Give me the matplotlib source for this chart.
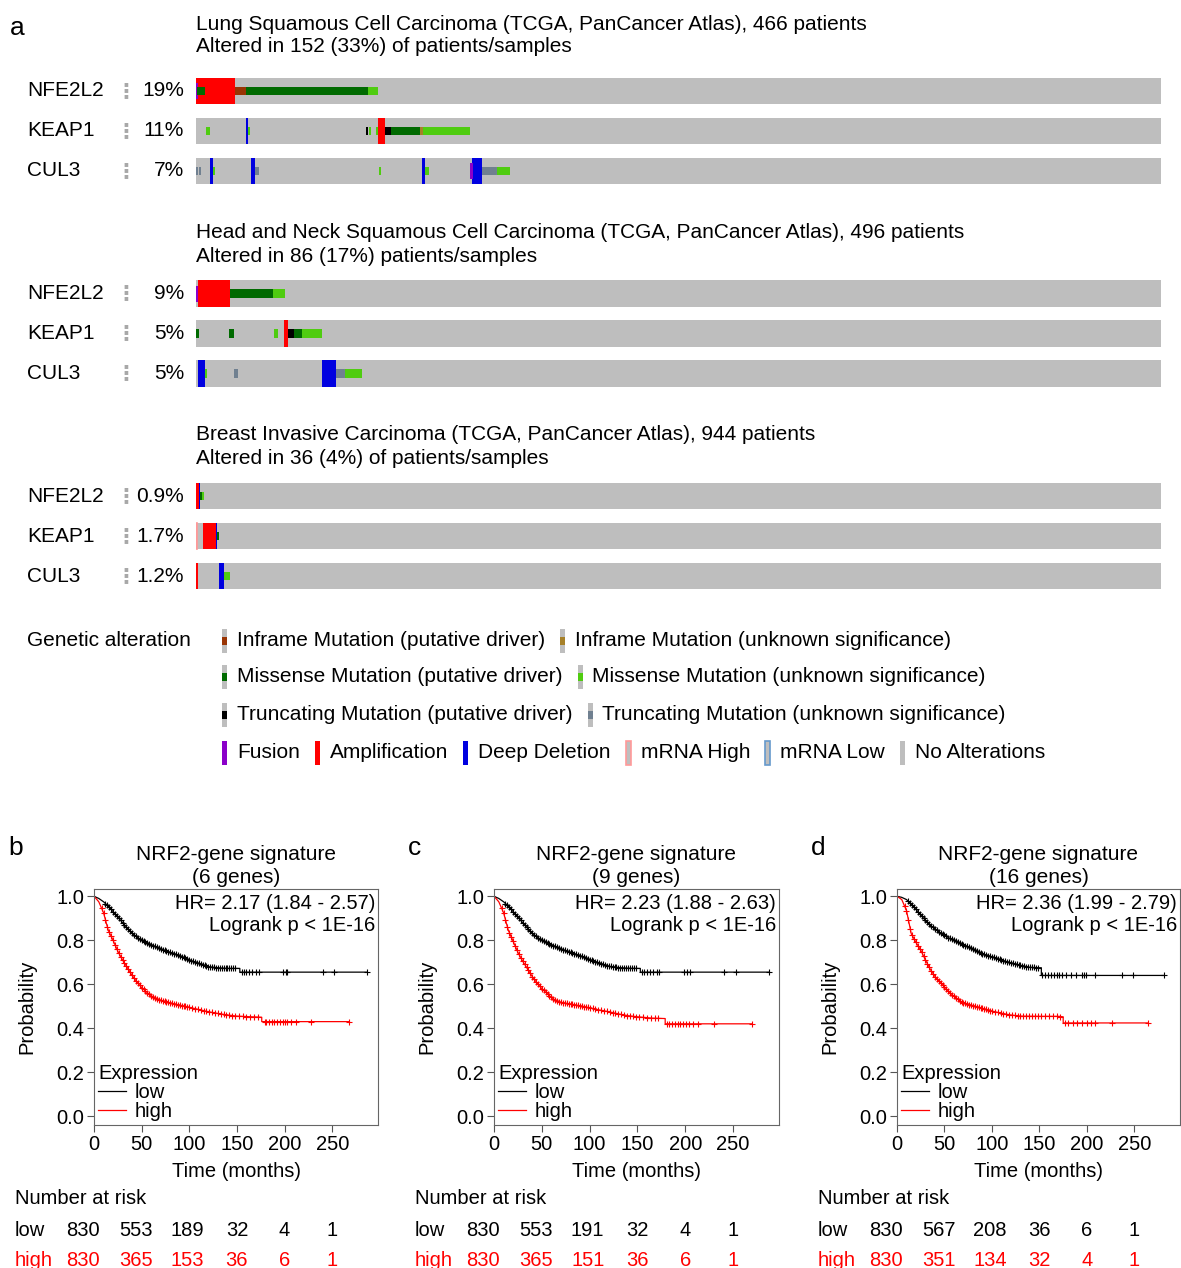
import matplotlib
matplotlib.use('Agg')
import matplotlib.pyplot as plt
from matplotlib.patches import Rectangle
from matplotlib.lines import Line2D
from matplotlib.transforms import blended_transform_factory
import numpy as np

plt.rcParams['font.family'] = ['Liberation Sans', 'DejaVu Sans']

W, H = 1181, 1268

# ---------------- panel a: oncoprint data ----------------
study_names = ['Lung Squamous Cell Carcinoma (TCGA, PanCancer Atlas), 466 patients',
               'Head and Neck Squamous Cell Carcinoma (TCGA, PanCancer Atlas), 496 patients',
               'Breast Invasive Carcinoma (TCGA, PanCancer Atlas), 944 patients']
study_altered = ['Altered in 152 (33%) of patients/samples',
                 'Altered in 86 (17%) patients/samples',
                 'Altered in 36 (4%) of patients/samples']
n_patients = [466, 496, 944]
genes = ['NFE2L2', 'KEAP1', 'CUL3']
gene_pct = [['19%', '11%', '7%'],
            ['9%', '5%', '5%'],
            ['0.9%', '1.7%', '1.2%']]

# (gene row, first sample, last sample, alteration)
alt_lung = [
    (0, 0, 19, 'amp'), (0, 0, 1, 'fusion'), (0, 0.5, 4.5, 'missense_drv'),
    (0, 19, 24, 'inframe_drv'), (0, 24, 83, 'missense_drv'), (0, 83, 88, 'missense_unk'),
    (1, 5, 7, 'missense_unk'), (1, 24, 25, 'homdel'), (1, 25, 26, 'missense_unk'),
    (1, 82, 83, 'trunc_drv'), (1, 83.5, 84.5, 'missense_unk'), (1, 87, 88, 'missense_unk'),
    (1, 88, 91.5, 'amp'), (1, 91.5, 94, 'trunc_drv'), (1, 94, 108, 'missense_drv'),
    (1, 108, 109.5, 'inframe_unk'), (1, 109.5, 132.5, 'missense_unk'),
    (2, 0, 1, 'trunc_unk'), (2, 1.5, 2.5, 'trunc_unk'), (2, 7, 8, 'homdel'), (2, 8, 9, 'missense_unk'),
    (2, 26.5, 28.5, 'homdel'), (2, 28.5, 30.5, 'trunc_unk'), (2, 88.5, 89.5, 'missense_unk'),
    (2, 109, 110.7, 'homdel'), (2, 110.7, 112.6, 'missense_unk'), (2, 132.5, 134, 'fusion'),
    (2, 133.5, 138.3, 'homdel'), (2, 138.3, 145.5, 'trunc_unk'), (2, 145.5, 151.8, 'missense_unk'),
]
alt_hnsc = [
    (0, 1, 17.5, 'amp'), (0, 0, 1, 'fusion'), (0, 17.5, 39.6, 'missense_drv'), (0, 39.6, 45.8, 'missense_unk'),
    (1, 0, 1.5, 'missense_drv'), (1, 17, 19.5, 'missense_drv'), (1, 40, 42, 'missense_unk'),
    (1, 45.3, 47.3, 'amp'), (1, 47.3, 50.4, 'trunc_drv'), (1, 50.4, 54.5, 'missense_drv'),
    (1, 54.5, 64.8, 'missense_unk'),
    (2, 1, 4.6, 'homdel'), (2, 4.6, 5.7, 'missense_unk'), (2, 19.5, 21.6, 'trunc_unk'),
    (2, 64.8, 72, 'homdel'), (2, 72, 76.7, 'trunc_unk'), (2, 76.7, 85.4, 'missense_unk'),
]
alt_brca = [
    (0, 0, 3, 'amp'), (0, 3, 4, 'homdel'), (0, 4, 5.5, 'missense_drv'), (0, 5.5, 8, 'missense_unk'),
    (1, 0, 1, 'mrna_hi'), (1, 7, 19.6, 'amp'), (1, 19.6, 20.6, 'homdel'), (1, 20.6, 22.5, 'missense_drv'),
    (2, 0, 1.5, 'amp'), (2, 22.5, 27.4, 'homdel'), (2, 27.4, 33.3, 'missense_unk'),
]
alterations = [alt_lung, alt_hnsc, alt_brca]

COLORS = {'inframe_drv': '#993404', 'inframe_unk': '#a68028',
          'missense_drv': '#006a00', 'missense_unk': '#4fcc10',
          'trunc_drv': '#000000', 'trunc_unk': '#708090',
          'fusion': '#8b00c9', 'amp': '#ff0000', 'homdel': '#0000e0',
          'mrna_hi': '#ff9999', 'mrna_lo': '#6699cc', 'none': '#bebebe'}
FULL = ['amp', 'homdel']
OUTLINE = ['mrna_hi', 'mrna_lo']
GREY = '#bebebe'

legend_rows = [
    [('inframe_drv', 'Inframe Mutation (putative driver)'), ('inframe_unk', 'Inframe Mutation (unknown significance)')],
    [('missense_drv', 'Missense Mutation (putative driver)'), ('missense_unk', 'Missense Mutation (unknown significance)')],
    [('trunc_drv', 'Truncating Mutation (putative driver)'), ('trunc_unk', 'Truncating Mutation (unknown significance)')],
    [('fusion', 'Fusion'), ('amp', 'Amplification'), ('homdel', 'Deep Deletion'),
     ('mrna_hi', 'mRNA High'), ('mrna_lo', 'mRNA Low'), ('none', 'No Alterations')],
]

# ---------------- panels b-d: Kaplan-Meier data ----------------
km_letters = ['b', 'c', 'd']
km_titles = ['NRF2-gene signature\n(6 genes)', 'NRF2-gene signature\n(9 genes)', 'NRF2-gene signature\n(16 genes)']
km_hr = ['HR= 2.17 (1.84 - 2.57)', 'HR= 2.23 (1.88 - 2.63)', 'HR= 2.36 (1.99 - 2.79)']
km_p = ['Logrank p < 1E-16'] * 3

low_t = [[0, 5, 10, 15, 20, 25, 30, 35, 40, 45, 50, 55, 60, 70, 80, 90, 100, 110, 120, 130, 140, 150, 153, 153, 286],
         [0, 5, 10, 15, 20, 25, 30, 35, 40, 45, 50, 55, 60, 70, 80, 90, 100, 110, 120, 130, 140, 150, 153, 153, 288],
         [0, 5, 10, 15, 20, 25, 30, 35, 40, 45, 50, 55, 60, 70, 80, 90, 100, 110, 120, 130, 140, 150, 152, 152, 281]]
low_s = [[1.0, 0.99, 0.975, 0.955, 0.93, 0.905, 0.88, 0.855, 0.832, 0.815, 0.80, 0.79, 0.78, 0.76, 0.745, 0.73, 0.71, 0.695, 0.68, 0.675, 0.672, 0.672, 0.672, 0.655, 0.655],
         [1.0, 0.99, 0.975, 0.955, 0.93, 0.905, 0.88, 0.855, 0.832, 0.815, 0.80, 0.79, 0.78, 0.76, 0.745, 0.73, 0.712, 0.697, 0.682, 0.676, 0.673, 0.672, 0.672, 0.655, 0.655],
         [1.0, 0.995, 0.985, 0.965, 0.94, 0.915, 0.89, 0.868, 0.852, 0.835, 0.822, 0.81, 0.80, 0.78, 0.76, 0.738, 0.725, 0.71, 0.697, 0.686, 0.677, 0.675, 0.675, 0.64, 0.64]]
high_t = [[0, 5, 10, 15, 20, 25, 30, 35, 40, 45, 50, 55, 60, 65, 70, 80, 90, 100, 110, 120, 130, 140, 150, 165, 176, 176, 268],
          [0, 5, 10, 15, 20, 25, 30, 35, 40, 45, 50, 55, 60, 65, 70, 80, 90, 100, 110, 120, 130, 140, 150, 165, 179, 179, 270],
          [0, 5, 10, 15, 20, 25, 30, 35, 40, 45, 50, 55, 60, 65, 70, 80, 90, 100, 110, 120, 130, 150, 170, 175, 175, 264]]
high_s = [[1.0, 0.975, 0.925, 0.845, 0.80, 0.75, 0.71, 0.675, 0.64, 0.61, 0.585, 0.565, 0.548, 0.535, 0.527, 0.515, 0.505, 0.495, 0.485, 0.475, 0.467, 0.46, 0.455, 0.452, 0.45, 0.43, 0.43],
          [1.0, 0.975, 0.925, 0.845, 0.795, 0.745, 0.705, 0.67, 0.635, 0.605, 0.58, 0.56, 0.54, 0.525, 0.518, 0.51, 0.502, 0.493, 0.483, 0.475, 0.465, 0.457, 0.452, 0.446, 0.444, 0.42, 0.42],
          [1.0, 0.985, 0.935, 0.83, 0.79, 0.755, 0.71, 0.668, 0.635, 0.61, 0.588, 0.565, 0.545, 0.528, 0.515, 0.503, 0.49, 0.478, 0.468, 0.46, 0.455, 0.454, 0.454, 0.452, 0.424, 0.424]]

# censoring times (months); the dense early part looks the same in all panels
censor_low_dense = [12, 14, 16, 18, 20, 22, 24, 26, 28, 30, 32, 34, 36, 38, 40, 42, 44, 46, 48, 50,
                    52, 54, 56, 58, 60, 62, 64, 66, 68, 70, 72, 74, 76, 78, 80, 82, 84, 86, 88, 90,
                    92, 94, 96, 98, 100, 102, 104, 106, 108, 110, 112, 114, 116, 118, 120, 122,
                    124, 126, 128, 130, 132, 134, 136, 138, 140, 142, 144, 146, 148]
censor_high_dense = [8, 10, 12, 14, 16, 18, 20, 22, 24, 26, 28, 30, 32, 34, 36, 38, 40, 42, 44, 46,
                     48, 50, 52, 54, 56, 58, 60, 62, 64, 66, 68, 70, 72, 74, 76, 78, 80, 82, 84, 86,
                     88, 90, 92, 94, 96, 98, 100, 103, 106, 109, 112, 115, 118, 121, 124, 127, 130,
                     133, 136, 139, 142, 145, 148, 152, 156, 160, 164, 168, 172]
censor_low_tail = [[155, 157, 160, 163, 166, 170, 173, 198, 201, 203, 240, 252, 286],
                   [155, 157, 160, 163, 166, 170, 173, 199, 202, 205, 241, 253, 288],
                   [153, 156, 159, 162, 165, 168, 171, 174, 178, 183, 188, 195, 197, 199, 208, 237, 248, 281]]
censor_high_tail = [[179, 181, 184, 187, 189, 192, 195, 198, 200, 203, 207, 212, 228, 268],
                    [181, 183, 186, 189, 192, 195, 198, 201, 204, 208, 213, 230, 270],
                    [177, 180, 185, 190, 195, 200, 204, 209, 226, 264]]

risk_times = [0, 50, 100, 150, 200, 250]
risk_low = [[830, 553, 189, 32, 4, 1], [830, 553, 191, 32, 4, 1], [830, 567, 208, 36, 6, 1]]
risk_high = [[830, 365, 153, 36, 6, 1], [830, 365, 151, 36, 6, 1], [830, 351, 134, 32, 4, 1]]

# ---------------- drawing ----------------
fig = plt.figure(figsize=(W / 100, H / 100), dpi=100)


def px_axes(x0, y0, x1, y1):
    return fig.add_axes([x0 / W, 1 - y1 / H, (x1 - x0) / W, (y1 - y0) / H])


bg = px_axes(0, 0, W, H)
bg.set_xlim(0, W)
bg.set_ylim(H, 0)
bg.axis('off')

FS = 15
KFS = 14.5
bg.text(10, 28, 'a', fontsize=19, va='center', ha='left')


def draw_cell(ax, x, w, yc, kind, h, mut_h, fus_h):
    c = COLORS[kind]
    if kind in OUTLINE:
        ax.add_patch(Rectangle((x, yc - h / 2), w, h, facecolor='none', edgecolor=c, lw=1.2))
    elif kind in FULL:
        ax.add_patch(Rectangle((x, yc - h / 2), w, h, color=c, lw=0))
    elif kind == 'fusion':
        ax.add_patch(Rectangle((x, yc - fus_h / 2), w, fus_h, color=c, lw=0))
    elif kind == 'none':
        pass
    else:
        ax.add_patch(Rectangle((x, yc - mut_h / 2), w, mut_h, color=c, lw=0))


BAR_X0, BAR_X1 = 196, 1161
track_top = [71, 273.5, 476]
header_y = [24, 233, 435]
order = {'amp': 0, 'homdel': 0, 'mrna_hi': 0, 'mrna_lo': 0, 'fusion': 1}
for s in range(3):
    ax = px_axes(BAR_X0, track_top[s], BAR_X1, track_top[s] + 120)
    ax.set_xlim(0, n_patients[s])
    ax.set_ylim(2.5, -0.5)
    ax.axis('off')
    for g in range(3):
        ax.add_patch(Rectangle((0, g - 0.33), n_patients[s], 0.66, color=GREY, lw=0))
        yc = track_top[s] + 20 + 40 * g
        bg.text(27, yc, genes[g], fontsize=FS, va='center', ha='left')
        bg.text(184, yc, gene_pct[s][g], fontsize=FS, va='center', ha='right')
        bg.text(126, yc, '\u22ee', fontsize=15, va='center', ha='center', color='#a8a8a8',
                family='DejaVu Sans', fontweight='bold')
    for (g, a, b, kind) in sorted(alterations[s], key=lambda r: order.get(r[3], 2)):
        draw_cell(ax, a, b - a, g, kind, 0.66, 0.22, 0.4)
    bg.text(196, header_y[s], study_names[s], fontsize=FS, va='center', ha='left')
    bg.text(196, header_y[s] + 23, study_altered[s], fontsize=FS, va='center', ha='left')

# legend of genetic alterations
bg.text(27, 641, 'Genetic alteration', fontsize=FS, va='center', ha='left')
renderer = fig.canvas.get_renderer()
leg_y = [641, 677, 715, 753]
for row, y in zip(legend_rows, leg_y):
    x = 222
    for kind, label in row:
        bg.add_patch(Rectangle((x, y - 12), 5, 24, color=GREY, lw=0))
        draw_cell(bg, x, 5, y, kind, 24, 8, 24)
        t = bg.text(x + 15, y, label, fontsize=FS, va='center', ha='left')
        ext = t.get_window_extent(renderer=renderer)
        x = ext.x1 + 15

# Kaplan-Meier panels
km_box = [(94, 889, 378, 1125), (494, 889, 779, 1125), (897, 889, 1180, 1125)]
risk_x = [-12, 44, 98, 150, 200, 250]
for i in range(3):
    x0, y0, x1, y1 = km_box[i]
    ax = px_axes(x0, y0, x1, y1)
    ax.plot(low_t[i], low_s[i], color='black', lw=0.9)
    ax.plot(high_t[i], high_s[i], color='red', lw=0.9)
    cl = censor_low_dense + censor_low_tail[i]
    ch = censor_high_dense + censor_high_tail[i]
    ax.plot(cl, np.interp(cl, low_t[i], low_s[i]), '+', color='black', ms=5, mew=0.8)
    ax.plot(ch, np.interp(ch, high_t[i], high_s[i]), '+', color='red', ms=5, mew=0.8)
    ax.set_xlim(0, 298)
    ax.set_ylim(-0.04, 1.033)
    ax.set_xticks([0, 50, 100, 150, 200, 250])
    ax.set_yticks([0, 0.2, 0.4, 0.6, 0.8, 1.0])
    ax.set_yticklabels(['0.0', '0.2', '0.4', '0.6', '0.8', '1.0'])
    ax.tick_params(labelsize=KFS, length=5, width=0.8, color='#555555', pad=2)
    for sp in ax.spines.values():
        sp.set_color('#666666')
        sp.set_linewidth(0.8)
    ax.set_xlabel('Time (months)', fontsize=KFS, labelpad=6)
    ax.set_ylabel('Probability', fontsize=KFS, labelpad=14)
    ax.set_title(km_titles[i], fontsize=15, pad=4, linespacing=1.3)
    ax.text(0.99, 0.98, km_hr[i] + '\n' + km_p[i], transform=ax.transAxes, ha='right', va='top',
            fontsize=KFS, linespacing=1.25)
    handles = [Line2D([], [], color='black', lw=0.9), Line2D([], [], color='red', lw=0.9)]
    leg = ax.legend(handles, ['low', 'high'], title='Expression', loc='lower left',
                    bbox_to_anchor=(0.0, 0.0), frameon=False, alignment='left', fontsize=KFS,
                    title_fontsize=KFS, handlelength=1.4, handletextpad=0.4, borderpad=0.1,
                    labelspacing=0.0, borderaxespad=0.1)
    bg.text(x0 - 86, 848, km_letters[i], fontsize=19, va='center', ha='left')
    # number at risk table
    tr = blended_transform_factory(ax.transData, bg.transData)
    bg.text(x0 - 79, 1198, 'Number at risk', fontsize=KFS, va='center', ha='left')
    bg.text(x0 - 79, 1230, 'low', fontsize=KFS, va='center', ha='left')
    bg.text(x0 - 79, 1260, 'high', fontsize=KFS, va='center', ha='left', color='red')
    for k in range(len(risk_times)):
        bg.text(risk_x[k], 1230, str(risk_low[i][k]), transform=tr, fontsize=KFS,
                va='center', ha='center', clip_on=False)
        bg.text(risk_x[k], 1260, str(risk_high[i][k]), transform=tr, fontsize=KFS,
                va='center', ha='center', color='red', clip_on=False)

fig.savefig('out.png', dpi=100)
